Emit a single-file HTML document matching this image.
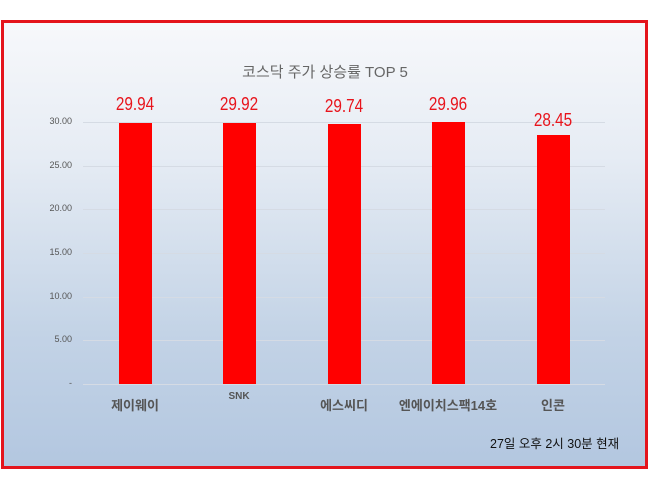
<!DOCTYPE html>
<html><head><meta charset="utf-8"><style>
body{margin:0;width:670px;height:490px;background:#fff;position:relative;overflow:hidden;font-family:"Liberation Sans","Noto Sans CJK KR",sans-serif}
.frame{position:absolute;left:1px;top:20px;width:641px;height:443px;border:3px solid #e4141c;background:linear-gradient(#f7f8fb 0%,#e6ecf4 30%,#c3d3e6 70%,#b3c7e0 100%)}
.t{position:absolute;white-space:nowrap}
.g{position:absolute;left:83px;width:522px;height:1px;background:#d5dbe4}
.yl{position:absolute;left:30px;width:42px;text-align:right;font-size:9px;color:#555}
.bar{position:absolute;width:33px;background:#ff0000}
.v{position:absolute;width:80px;text-align:center;font-size:18px;color:#e8141c;transform:scaleX(0.85)}
.c{position:absolute;width:120px;text-align:center;font-size:13px;font-weight:bold;color:#555}
</style></head><body>
<div class="frame"></div>
<div class="t" style="left:0;width:650px;text-align:center;top:61px;font-size:15px;color:#666">코스닥 주가 상승률 TOP 5</div>
<div class="g" style="top:122px"></div><div class="g" style="top:166px"></div><div class="g" style="top:209px"></div><div class="g" style="top:253px"></div><div class="g" style="top:297px"></div><div class="g" style="top:340px"></div><div class="g" style="top:384px"></div>
<div class="yl" style="top:116px">30.00</div><div class="yl" style="top:160px">25.00</div><div class="yl" style="top:203px">20.00</div><div class="yl" style="top:247px">15.00</div><div class="yl" style="top:291px">10.00</div><div class="yl" style="top:334px">5.00</div><div class="yl" style="top:378px">-</div>
<div class="bar" style="left:119px;top:123px;height:261px"></div>
<div class="bar" style="left:223px;top:123px;height:261px"></div>
<div class="bar" style="left:328px;top:124px;height:260px"></div>
<div class="bar" style="left:432px;top:122px;height:262px"></div>
<div class="bar" style="left:537px;top:135px;height:249px"></div>
<div class="v" style="left:95px;top:94px">29.94</div>
<div class="v" style="left:199px;top:94px">29.92</div>
<div class="v" style="left:304px;top:96px">29.74</div>
<div class="v" style="left:408px;top:94px">29.96</div>
<div class="v" style="left:513px;top:110px">28.45</div>
<div class="c" style="left:75px;top:395px">제이웨이</div>
<div class="c" style="left:179px;top:391px;font-size:10px">SNK</div>
<div class="c" style="left:284px;top:395px">에스씨디</div>
<div class="c" style="left:388px;top:395px">엔에이치스팩14호</div>
<div class="c" style="left:493px;top:395px">인콘</div>
<div class="t" style="left:490px;top:433px;font-size:12.5px;color:#111">27일 오후 2시 30분 현재</div>
</body></html>
